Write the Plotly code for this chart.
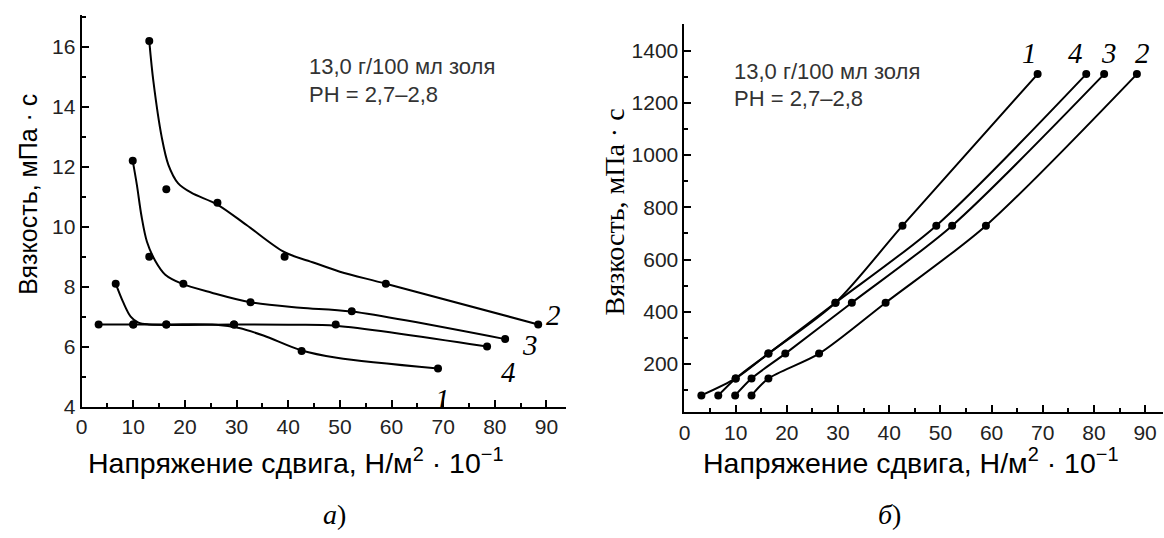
import plotly.graph_objects as go

# ---------------- data ----------------
# shear stress, N/m^2 * 10^-1 (same measurement points in both panels)
stress_1 = [3.3, 10, 16.4, 29.5, 42.6, 69.0]
stress_2 = [13.1, 16.4, 26.3, 39.3, 58.9, 88.4]
stress_3 = [9.9, 13.1, 19.7, 32.7, 52.3, 82.0]
stress_4 = [6.6, 10, 16.4, 29.5, 49.2, 78.5]

# panel a) viscosity, mPa*s
visc_1 = [6.74, 6.74, 6.74, 6.74, 5.85, 5.27]
visc_2 = [16.2, 11.25, 10.8, 9.0, 8.1, 6.74]
visc_3 = [12.2, 9.0, 8.1, 7.48, 7.18, 6.25]
visc_4 = [8.1, 6.74, 6.74, 6.74, 6.74, 6.0]

# panel б) values on the vertical axis
rate_vals = [80, 145, 240, 435, 730, 1310]

# smoothed curves drawn through panel a) (traced from the picture)
fit1_x = [3.3, 16.4, 26.0, 30.5, 35.2, 42.6, 49.4, 69.0]
fit1_y = [6.74, 6.74, 6.73, 6.62, 6.37, 5.87, 5.63, 5.27]
fit2_x = [13.1, 13.9, 15.5, 16.8, 18.7, 21.3, 26.2, 32.0, 39.3, 45.0, 50.0, 58.9, 88.4]
fit2_y = [16.2, 14.85, 13.0, 12.07, 11.45, 11.13, 10.75, 10.05, 9.15, 8.8, 8.5, 8.1, 6.74]
fit3_x = [9.9, 10.7, 11.6, 12.65, 14.3, 16.2, 19.4, 25.2, 32.7, 42.3, 52.3, 82.0]
fit3_y = [12.2, 11.4, 10.35, 9.5, 8.85, 8.4, 8.1, 7.8, 7.48, 7.3, 7.17, 6.25]
fit4_x = [6.6, 8.0, 9.5, 11.0, 13.0, 29.5, 40.0, 49.2, 78.5]
fit4_y = [8.1, 7.5, 7.0, 6.8, 6.74, 6.74, 6.73, 6.7, 6.0]

info_lines = ["13,0 г/100 мл золя", "PH = 2,7\u20132,8"]
y_title = "Вязкость, мПа · с"
x_title = "Напряжение сдвига, Н/м<sup>2</sup> · 10<sup>\u22121</sup>"
captions = ["<i>а</i>)", "<i>б</i>)"]

W, H = 1164, 538
BLACK = "#000000"
SANS = "Liberation Sans, Arial, sans-serif"
SERIF = "Liberation Serif, Times New Roman, serif"

fig = go.Figure()

line_style = dict(color=BLACK, width=2, shape="spline", smoothing=0.9)
mk = dict(color=BLACK, size=8)

# ---- panel a) ----
for fx, fy in [(fit1_x, fit1_y), (fit2_x, fit2_y), (fit3_x, fit3_y), (fit4_x, fit4_y)]:
    fig.add_trace(go.Scatter(x=fx, y=fy, mode="lines", line=line_style,
                             xaxis="x", yaxis="y", showlegend=False, hoverinfo="skip"))
for sx, vy in [(stress_1, visc_1), (stress_2, visc_2), (stress_3, visc_3), (stress_4, visc_4)]:
    fig.add_trace(go.Scatter(x=sx, y=vy, mode="markers", marker=mk,
                             xaxis="x", yaxis="y", showlegend=False))

# ---- panel б) ----
for sx in [stress_1, stress_2, stress_3, stress_4]:
    fig.add_trace(go.Scatter(x=sx, y=rate_vals, mode="lines+markers",
                             line=dict(color=BLACK, width=2, shape="spline", smoothing=0.8),
                             marker=mk, xaxis="x2", yaxis="y2", showlegend=False))

def px_x(p):
    return p / W

def px_y(p):
    return (H - p) / H

axis_common = dict(
    showline=True, linecolor=BLACK, linewidth=2, mirror=False,
    ticks="inside", ticklen=7, tickwidth=1.5, tickcolor=BLACK,
    showgrid=False, zeroline=False,
    tickfont=dict(family=SANS, size=21, color="#222222"),
)
minor_common = dict(ticks="inside", ticklen=4, tickwidth=1.5, tickcolor=BLACK)

fig.update_layout(
    width=W, height=H,
    margin=dict(l=0, r=0, t=0, b=0),
    paper_bgcolor="white", plot_bgcolor="white",
    xaxis=dict(domain=[px_x(76), px_x(563)], range=[0, 93.8], anchor="y",
               tick0=0, dtick=10, minor=dict(dtick=5, **minor_common), **axis_common),
    yaxis=dict(domain=[px_y(415), px_y(15)], range=[4, 17.08], anchor="x",
               tick0=0, dtick=2, minor=dict(dtick=1, **minor_common), **axis_common),
    xaxis2=dict(domain=[px_x(682), px_x(1163)], range=[0, 93.5], anchor="y2",
                tick0=0, dtick=10, minor=dict(dtick=5, **minor_common), **axis_common),
    yaxis2=dict(domain=[px_y(421), px_y(25)], range=[15, 1500], anchor="x2",
                tick0=0, dtick=200, minor=dict(dtick=100, **minor_common), **axis_common),
)

ann = []
# curve labels, panel a)
lab_a = {"2": (91.3, 7.05), "3": (86.9, 6.05), "4": (82.7, 5.15), "1": (69.8, 4.25)}
for k, (xx, yy) in lab_a.items():
    ann.append(dict(x=xx, y=yy, xref="x", yref="y", text=f"<i>{k}</i>", showarrow=False,
                    xanchor="center", yanchor="middle",
                    font=dict(family=SERIF, size=29, color=BLACK)))
# curve labels, panel б)
lab_b = {"1": (67.5, 1390), "4": (76.4, 1390), "3": (83.0, 1390), "2": (89.4, 1390)}
for k, (xx, yy) in lab_b.items():
    ann.append(dict(x=xx, y=yy, xref="x2", yref="y2", text=f"<i>{k}</i>", showarrow=False,
                    xanchor="center", yanchor="middle",
                    font=dict(family=SERIF, size=29, color=BLACK)))

# condition text
for i, t in enumerate(info_lines):
    ann.append(dict(x=43.7, y=[15.34, 14.42][i], xref="x", yref="y", text=t, showarrow=False,
                    xanchor="left", yanchor="middle",
                    font=dict(family=SANS, size=22, color="#333333")))
    ann.append(dict(x=9.2, y=[1320, 1218][i], xref="x2", yref="y2", text=t, showarrow=False,
                    xanchor="left", yanchor="middle",
                    font=dict(family=SANS, size=22, color="#333333")))

# axis titles
ann.append(dict(x=px_x(22), y=px_y(198), xref="paper", yref="paper", text=y_title,
                textangle=-90, showarrow=False, xanchor="center", yanchor="middle",
                font=dict(family=SANS, size=25, color=BLACK)))
ann.append(dict(x=px_x(612), y=px_y(216), xref="paper", yref="paper", text=y_title,
                textangle=-90, showarrow=False, xanchor="center", yanchor="middle",
                font=dict(family=SERIF, size=28, color=BLACK)))
ann.append(dict(x=px_x(291), y=px_y(471), xref="paper", yref="paper", text=x_title,
                showarrow=False, xanchor="center", yanchor="middle",
                font=dict(family=SANS, size=28.5, color=BLACK)))
ann.append(dict(x=px_x(910), y=px_y(471), xref="paper", yref="paper", text=x_title,
                showarrow=False, xanchor="center", yanchor="middle",
                font=dict(family=SANS, size=28.5, color=BLACK)))

# captions
ann.append(dict(x=px_x(330), y=px_y(525), xref="paper", yref="paper", text=captions[0],
                showarrow=False, xanchor="center", yanchor="middle",
                font=dict(family=SERIF, size=28, color=BLACK)))
ann.append(dict(x=px_x(888), y=px_y(525), xref="paper", yref="paper", text=captions[1],
                showarrow=False, xanchor="center", yanchor="middle",
                font=dict(family=SERIF, size=28, color=BLACK)))

fig.update_layout(annotations=ann)

fig.write_html("out.html")
